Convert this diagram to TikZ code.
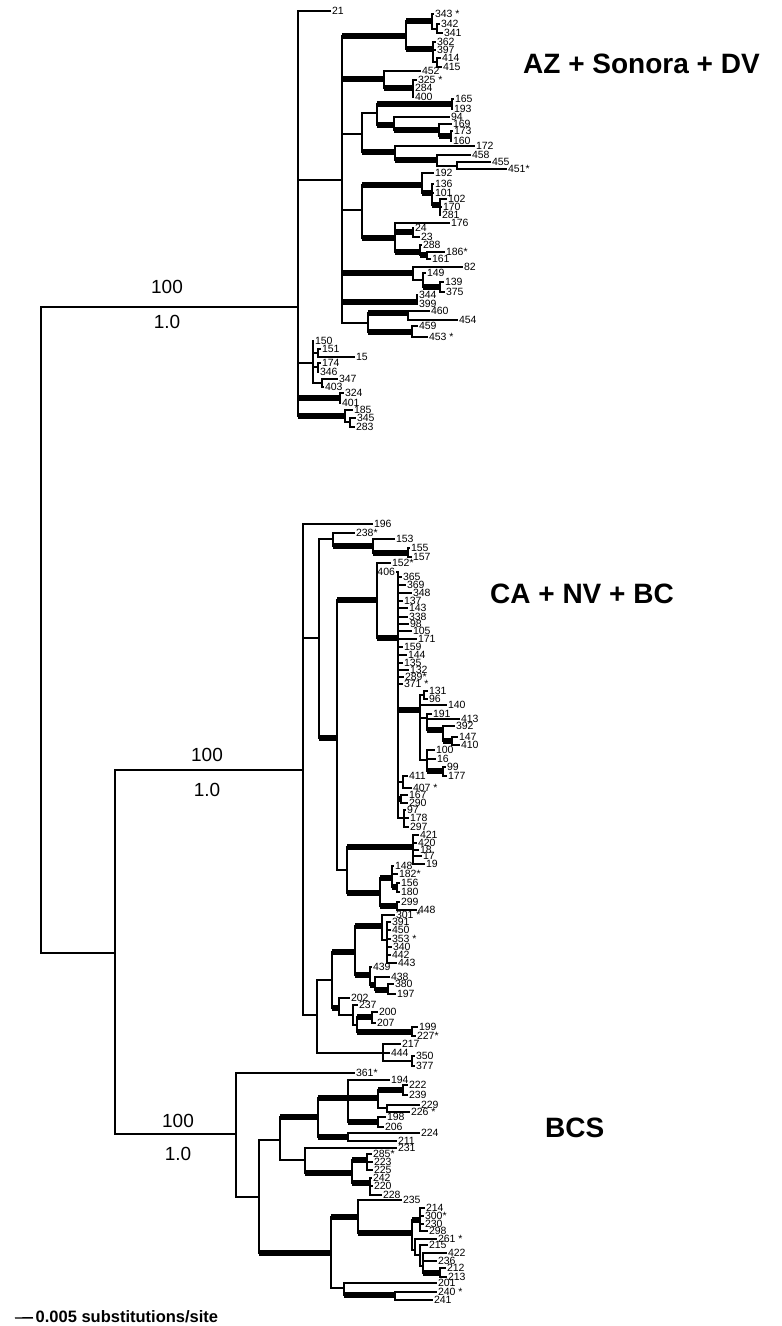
\documentclass[tikz,border=0pt]{standalone}
\usepackage{fontspec}
\setmainfont{Liberation Sans}

\begin{document}
\begin{tikzpicture}[x=1pt,y=-1pt,
  br/.style={line width=1.4pt},
  bb/.style={line width=5.5pt},
  lf/.style={anchor=west,inner sep=0.8pt,font=\fontsize{10.5}{11}\selectfont},
  supp/.style={inner sep=1pt,font=\fontsize{19}{20}\selectfont},
  clade/.style={anchor=west,inner sep=0pt,font=\fontsize{28}{30}\selectfont\bfseries}]
\useasboundingbox (0,0) rectangle (782,1326);

% internal nodes of the tree
\foreach \n/\x/\y in {nRt/41/630, nA/298/307, nB/342/180, nB1/406/36, n343/432/21, n342/437/29,
  n362/433/49, n414/437/62, nB2/384/79, n325/413/88, nB3/362/134, nB3a/377/113, n165/452/104,
  n94/394/125, n169/439/130, n173/451/136, nB3b/395/152, n458/437/160, n455/457/166,
  nB4/362/210, n192/422/185, n136/432/193, n102/440/205, nB4b/395/238, n24/413/232,
  n288/420/252, n186/427/255, nB5/413/273, n149/423/280, n139/440/287, nB6/417/302,
  nB7/368/323, n460/408/313, n459/412/332, nC/313/363, n151/318/353, n174/318/367,
  n347/322/383, nD/340/398, nE/345/416, n345/350/422}
  \coordinate (\n) at (\x,\y);
\foreach \n/\x/\y in {nLow/115/953, nF/303/770, nG1/319/638, nG2/333/539, nG3/373/546, n155/408/553,
  nG4/337/738, nG5/377/600, nG/398/638, nH/420/710, n131/424/695, n191/427/718, n392/443/730,
  n147/452/741, n100/427/760, n99/443/771, n411/403/782, n167/401/799, n97/404/818,
  nI/347/870, n421/413/847, nJ/380/893, n148/392/878, n156/397/887, n299/397/906,
  nK/317/1015, nM/332/980, nN/355/952, nL1/382/926, nS/387/940, nR/370/975, nT/375/985,
  n380/388/990, nO/339/1008, nP/353/1015, nQ/357/1025, n200/372/1017, n199/412/1032,
  nU/383/1053, n350/412/1061}
  \coordinate (\n) at (\x,\y);
\foreach \n/\x/\y in {nV/236/1134, nW/259/1197, nX/280/1140, nZ/318/1117, nAA/348/1098,
  nAC/378/1098, n222/403/1090, n229/387/1108, n198/378/1122, nAB/348/1137, nAD/305/1160,
  nAE/352/1173, n285/367/1160, n242/370/1183, nY/331/1253, nAF/358/1217, nAG/412/1233,
  nAH/420/1220, nAI/415/1250, nAJ/420/1255, nAK/423/1266, nAL/440/1273, nAM/344/1288,
  nAN/395/1295}
  \coordinate (\n) at (\x,\y);

% tips
\foreach \t/\x/\y in {21/331/11, 342/440/24, 341/443/33, 362/436/42, 397/436/50, 414/441/58,
  415/442/67, 452/421/71, 284/414/88, 400/414/97, 165/454/99, 193/453/109, 94/450/117,
  169/452/124, 173/453/131, 160/452/141, 172/475/146, 458/471/155, 455/491/162, 192/434/173,
  136/434/184, 101/434/193, 102/447/199, 170/442/207, 281/441/215, 176/450/223, 24/414/228,
  23/420/237, 288/422/245, 161/431/259, 82/463/267, 149/426/273, 139/444/282, 375/445/292,
  344/418/295, 399/418/304, 460/430/311, 454/458/320, 459/418/326, 150/314/341, 151/321/349,
  15/355/357, 174/321/363, 346/319/372, 347/338/379, 403/324/387, 324/344/393, 401/341/403,
  185/353/410, 345/356/418, 283/355/427}
  \node[lf] (l\t) at (\x,\y) {\t};
\foreach \t/\x/\y in {196/373/524, 153/395/539, 155/410/548, 157/412/557, 365/402/577,
  369/406/585, 348/412/593, 137/403/601, 143/408/608, 338/408/617, 98/409/624, 105/412/631,
  171/417/639, 159/403/647, 144/407/655, 135/403/663, 132/409/670, 131/428/691, 96/428/699,
  140/447/705, 191/432/714, 413/460/719, 392/455/726, 147/458/737, 410/460/745, 100/435/750,
  16/436/759, 99/446/767, 177/447/776, 411/408/776, 167/408/795, 290/408/803, 97/406/810,
  178/409/818, 297/409/827, 421/419/835, 420/417/843, 18/419/850, 17/422/856, 19/425/864,
  148/394/866, 156/400/883, 180/400/892, 299/400/902, 448/417/910, 391/391/922, 450/391/930,
  340/392/947, 442/391/955, 443/397/963, 439/372/967, 438/390/977, 380/394/984, 197/396/994,
  202/350/998, 237/358/1005, 200/378/1012, 207/376/1023, 199/418/1027, 217/401/1044,
  444/390/1053, 350/415/1056, 377/415/1066}
  \node[lf] (l\t) at (\x,\y) {\t};
\foreach \t/\x/\y in {194/390/1080, 222/408/1085, 239/408/1095, 229/420/1105, 198/386/1117,
  206/384/1127, 224/420/1133, 211/397/1141, 231/397/1148, 223/373/1162, 225/373/1170,
  242/372/1178, 220/373/1186, 228/382/1195, 235/402/1200, 214/425/1208, 230/424/1224,
  298/428/1231, 215/428/1245, 422/447/1253, 236/437/1261, 212/446/1268, 213/447/1277,
  201/437/1283, 241/433/1300}
  \node[lf] (l\t) at (\x,\y) {\t};
% tips with a star
\foreach \n/\x/\y/\t in {l343/434/14/343 *, l325/417/80/325 *, l451/507/169/451*,
  l186/445/252/186*, l453/428/337/453 *, l238/355/533/238*, l152/391/563/152*,
  l289/404/677/289*, l371/403/684/371 *, l407/412/788/407 *, l182/398/874/182*,
  l301/395/915/301 *, l353/391/939/353 *, l227/416/1036/227*, l361/355/1073/361*,
  l226/410/1112/226 *, l285/372/1154/285*, l300/424/1216/300*, l261/437/1239/261 *,
  l240/437/1292/240 *}
  \node[lf] (\n) at (\x,\y) {\t};
\node[lf,anchor=east] (l406) at (396,572) {406};

% branches
\foreach \p/\c in {nRt/nA, nRt/nLow, nA/l21, nA/nB, nA/nC, nA/nD, nA/nE,
  nB/nB1, nB/nB2, nB/nB3, nB/nB4, nB/nB5, nB/nB6, nB/nB7,
  nB1/n343, nB1/n362, n343/l343, n343/n342, n342/l342, n342/l341,
  n362/l362, n362/l397, n362/n414, n414/l414, n414/l415,
  nB2/l452, nB2/n325, n325/l325, n325/l284, n325/l400,
  nB3/nB3a, nB3/nB3b, nB3a/n165, nB3a/n94, n165/l165, n165/l193, n94/l94, n94/n169,
  n169/l169, n169/n173, n173/l173, n173/l160,
  nB3b/l172, nB3b/n458, n458/l458, n458/n455, n455/l455, n455/l451,
  nB4/n192, nB4/nB4b, n192/l192, n192/n136, n136/l136, n136/l101, n136/n102,
  n102/l102, n102/l170, n102/l281,
  nB4b/l176, nB4b/n24, nB4b/n288, n24/l24, n24/l23, n288/l288, n288/n186, n186/l186, n186/l161,
  nB5/l82, nB5/n149, n149/l149, n149/n139, n139/l139, n139/l375, nB6/l344, nB6/l399,
  nB7/n460, nB7/n459, n460/l460, n460/l454, n459/l459, n459/l453,
  nC/l150, nC/n151, nC/n174, nC/n347, n151/l151, n151/l15, n174/l174, n174/l346,
  n347/l347, n347/l403, nD/l324, nD/l401, nE/l185, nE/n345, n345/l345, n345/l283}
  \draw[br] (\p) |- (\c);
\foreach \p/\c in {nLow/nF, nLow/nV, nF/l196, nF/nG1, nF/nK,
  nG1/nG2, nG1/nG4, nG2/l238, nG2/nG3, nG3/l153, nG3/n155, n155/l155, n155/l157,
  nG4/nG5, nG4/nI, nG5/l152, nG5/nG,
  nG/l406, nG/l365, nG/l369, nG/l348, nG/l137, nG/l143, nG/l338, nG/l98, nG/l105, nG/l171,
  nG/l159, nG/l144, nG/l135, nG/l132, nG/l289, nG/l371, nG/nH, nG/n411, nG/n167, nG/n97,
  nH/n131, nH/l140, nH/n191, nH/n100, n131/l131, n131/l96, n191/l191, n191/l413, n191/n392,
  n392/l392, n392/n147, n147/l147, n147/l410, n100/l100, n100/l16, n100/n99, n99/l99, n99/l177,
  n411/l411, n411/l407, n167/l167, n167/l290, n97/l97, n97/l178, n97/l297,
  nI/n421, nI/nJ, n421/l421, n421/l420, n421/l18, n421/l17, n421/l19,
  nJ/n148, nJ/n299, n148/l148, n148/l182, n148/n156, n156/l156, n156/l180, n299/l299, n299/l448,
  nK/nM, nK/nU, nM/nN, nM/nO, nN/nL1, nN/nR, nL1/l301, nL1/nS,
  nS/l391, nS/l450, nS/l353, nS/l340, nS/l442, nS/l443,
  nR/l439, nR/nT, nT/l438, nT/n380, n380/l380, n380/l197,
  nO/l202, nO/nP, nP/l237, nP/nQ, nQ/n200, nQ/n199, n200/l200, n200/l207, n199/l199, n199/l227,
  nU/l217, nU/l444, nU/n350, n350/l350, n350/l377}
  \draw[br] (\p) |- (\c);
\foreach \p/\c in {nV/l361, nV/nW, nW/nX, nW/nY, nX/nZ, nX/nAD, nZ/nAA, nZ/nAB,
  nAA/l194, nAA/nAC, nAA/n198, nAC/n222, nAC/n229, n222/l222, n222/l239, n229/l229, n229/l226,
  n198/l198, n198/l206, nAB/l224, nAB/l211,
  nAD/l231, nAD/nAE, nAE/n285, nAE/n242, n285/l285, n285/l223, n285/l225,
  n242/l242, n242/l220, n242/l228,
  nY/nAF, nY/nAM, nAF/l235, nAF/nAG, nAG/nAH, nAG/nAI, nAH/l214, nAH/l300, nAH/l230, nAH/l298,
  nAI/l261, nAI/nAJ, nAJ/l215, nAJ/nAK, nAK/l422, nAK/l236, nAK/nAL, nAL/l212, nAL/l213,
  nAM/l201, nAM/nAN, nAN/l240, nAN/l241}
  \draw[br] (\p) |- (\c);
\draw[line width=2.4pt] (nLow |- nF) -- (nF);

% heavy branches
\foreach \p/\c in {nA/nD, nA/nE, nB/nB1, nB/nB2, nB/nB5, nB/nB6, nB1/n343, nB1/n362,
  nB2/n325, nB3/nB3b, nB3a/n165, nB3a/n94, n94/n169, n169/n173, nB3b/n458, nB4/n192,
  nB4/nB4b, n192/n136, n136/n102, nB4b/n24, nB4b/n288, n288/n186, n149/n139, nB7/n460, nB7/n459,
  nG1/nG4, nG2/nG3, nG3/n155, nG4/nG5, nG5/nG, nG/nH, nG/n167, n191/n392, n392/n147, n100/n99,
  nI/n421, nI/nJ, nJ/n148, nJ/n299, n148/n156, nM/nN, nM/nO, nN/nL1, nN/nR, nR/nT, nT/n380,
  nQ/n200, nQ/n199,
  nW/nY, nX/nZ, nZ/nAA, nZ/nAB, nAA/nAC, nAA/n198, nAC/n222, nAD/nAE, nAE/n285, nAE/n242,
  nY/nAF, nAF/nAG, nAG/nAH, nAK/nAL, nAM/nAN}
  \draw[bb] (\p |- \c) -- (\c);

% support values
\node[supp] (sAZa) at (167,287) {100};
\node[supp] (sAZb) at (167,322) {1.0};
\node[supp] (sCAa) at (207,755) {100};
\node[supp] (sCAb) at (207,790) {1.0};
\node[supp] (sBCa) at (178,1121) {100};
\node[supp] (sBCb) at (178,1154) {1.0};

% clade names
\node[clade] (tAZ) at (523,64) {AZ + Sonora + DV};
\node[clade] (tCA) at (490,594) {CA + NV + BC};
\node[clade] (tBCS) at (545,1128) {BCS};

% scale
\coordinate (sbL) at (15,1318);
\node[anchor=west,inner sep=2.5pt,font=\fontsize{16.5}{17}\selectfont\bfseries] (sbT) at (33,1317) {0.005 substitutions/site};
\draw[br] (sbL) -- (sbT);
\end{tikzpicture}
\end{document}
